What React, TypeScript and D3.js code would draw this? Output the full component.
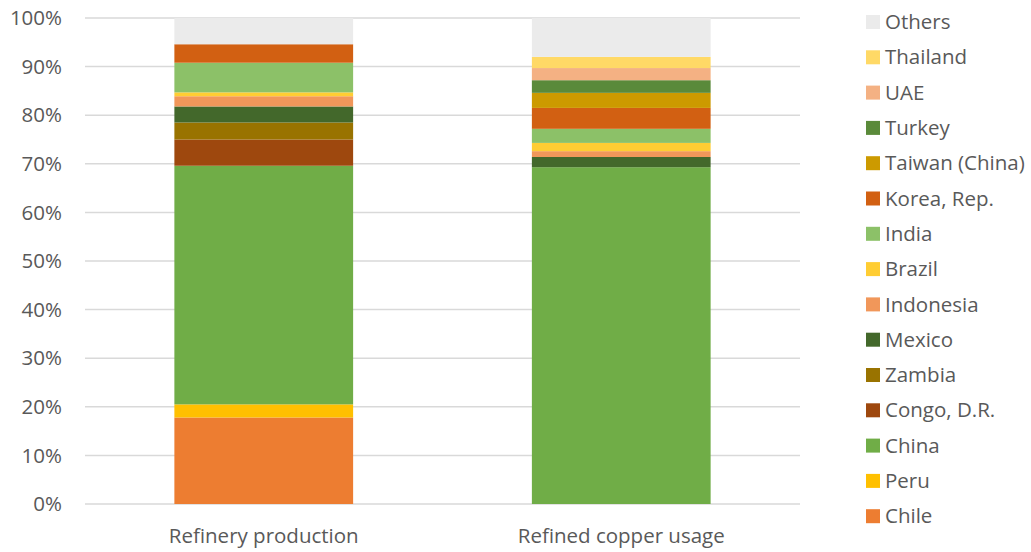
import React from "react";
import * as d3 from "d3";

const categories = ["Refinery production", "Refined copper usage"];
const countries = ["Chile", "Peru", "China", "Congo, D.R.", "Zambia", "Mexico", "Indonesia", "Brazil", "India", "Korea, Rep.", "Taiwan (China)", "Turkey", "UAE", "Thailand", "Others"];
const refineryProduction = [17.8, 2.7, 49.1, 5.4, 3.5, 3.3, 2.1, 0.8, 6.1, 3.8, 0, 0, 0, 0, 5.4];
const refinedUsage = [0, 0, 69.3, 0, 0, 2.1, 1.2, 1.7, 2.9, 4.3, 3.1, 2.6, 2.5, 2.3, 8.0];
const colors = ["#ED7D31", "#FFC000", "#70AD47", "#9E480E", "#997300", "#43682B", "#F1975A", "#FFCD33", "#8CC168", "#D26012", "#CC9A00", "#5A8A3A", "#F4B183", "#FFD966", "#EBEBEB"];
const yTicks = [0, 10, 20, 30, 40, 50, 60, 70, 80, 90, 100];

export default function App() {
  const W = 1031, H = 552;
  const left = 85, right = 800, top = 18, bottom = 504;
  const x = d3.scaleBand().domain(categories).range([left, right]).paddingInner(0.5).paddingOuter(0.25);
  const y = d3.scaleLinear().domain([0, 100]).range([bottom, top]);
  const stackData = categories.map((cat) => {
    const o: any = { cat };
    countries.forEach((c, i) => { o[c] = cat === categories[0] ? refineryProduction[i] : refinedUsage[i]; });
    return o;
  });
  const series = d3.stack().keys(countries)(stackData);
  const font = "Open Sans, sans-serif";
  const fs = 20.5;
  const legendOrder = countries.map((c, i) => i).reverse();
  return (
    <svg width={W} height={H} style={{ position: "absolute", left: 0, top: 0, background: "#fff" }}>
      {yTicks.map((t) => (
        <g key={t}>
          <line x1={left} x2={right} y1={y(t)} y2={y(t)} stroke="#D9D9D9" strokeWidth={1.5} />
          <text x={62} y={y(t)} dy="0.35em" textAnchor="end" fontSize={fs} fill="#595959" fontFamily={font}>{t}%</text>
        </g>
      ))}
      {series.map((s, si) => (
        <g key={s.key} fill={colors[si]}>
          {s.map((d, di) => (
            d[1] - d[0] > 0 ? (
              <rect key={di} x={x(categories[di])} width={x.bandwidth()} y={y(d[1])} height={y(d[0]) - y(d[1])} />
            ) : null
          ))}
        </g>
      ))}
      {categories.map((c) => (
        <text key={c} x={(x(c) as number) + x.bandwidth() / 2} y={536} dy="0.35em" textAnchor="middle" fontSize={fs} fill="#595959" fontFamily={font}>{c}</text>
      ))}
      {legendOrder.map((i, k) => (
        <g key={countries[i]} transform={`translate(866, ${22 + k * 35.3})`}>
          <rect x={0} y={-7} width={14} height={14} fill={colors[i]} />
          <text x={19} y={0} dy="0.35em" fontSize={fs} fill="#595959" fontFamily={font}>{countries[i]}</text>
        </g>
      ))}
    </svg>
  );
}
